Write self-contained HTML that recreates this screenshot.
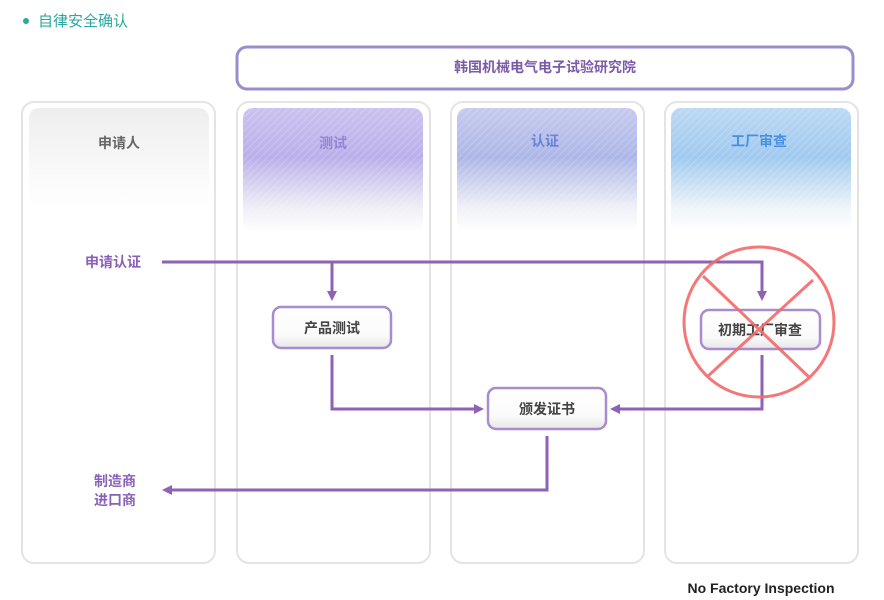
<!DOCTYPE html>
<html><head><meta charset="utf-8"><style>
html,body{margin:0;padding:0;background:#fff;width:884px;height:600px;overflow:hidden}
text{font-family:"Liberation Sans","Noto Sans CJK SC",sans-serif}
</style></head><body>
<svg width="884" height="600" viewBox="0 0 884 600" xmlns="http://www.w3.org/2000/svg">
<defs>
<pattern id="st" width="5" height="5" patternUnits="userSpaceOnUse" patternTransform="rotate(45)">
<rect width="5" height="5" fill="none"/><line x1="0" y1="0" x2="0" y2="5" stroke="#fff" stroke-width="1.5" opacity="0.25"/>
</pattern>
<linearGradient id="g1" x1="0" y1="0" x2="0" y2="1"><stop offset="0" stop-color="#eeeeee"/><stop offset="1" stop-color="#ffffff"/></linearGradient>
<linearGradient id="g2" x1="0" y1="0" x2="0" y2="1"><stop offset="0" stop-color="#cbc2f0"/><stop offset="0.4" stop-color="#bbb0ea"/><stop offset="0.8" stop-color="#efeef6"/><stop offset="1" stop-color="#ffffff"/></linearGradient>
<linearGradient id="g3" x1="0" y1="0" x2="0" y2="1"><stop offset="0" stop-color="#c6caee"/><stop offset="0.4" stop-color="#adb7e7"/><stop offset="0.8" stop-color="#eff0f7"/><stop offset="1" stop-color="#ffffff"/></linearGradient>
<linearGradient id="g4" x1="0" y1="0" x2="0" y2="1"><stop offset="0" stop-color="#bcd8f3"/><stop offset="0.4" stop-color="#a0caef"/><stop offset="0.8" stop-color="#eef4f9"/><stop offset="1" stop-color="#ffffff"/></linearGradient>
<linearGradient id="bx" x1="0" y1="0" x2="0" y2="1"><stop offset="0" stop-color="#ffffff"/><stop offset="0.7" stop-color="#fafafa"/><stop offset="1" stop-color="#e6e6e6"/></linearGradient>
<marker id="ar" markerWidth="10" markerHeight="10" refX="7" refY="5" orient="auto" markerUnits="userSpaceOnUse"><path d="M0,0 L10,5 L0,10 Z" fill="#8e62b4"/></marker>
</defs>
<circle cx="26" cy="21" r="3" fill="#2aa8a0"/>
<text x="38" y="26" font-size="15" fill="#2aa8a0">自律安全确认</text>

<rect x="237" y="47" width="616" height="42" rx="10" fill="#fff" stroke="#9b8dcc" stroke-width="3"/>
<text x="545" y="72" font-size="14" font-weight="bold" fill="#7b5aa8" text-anchor="middle">韩国机械电气电子试验研究院</text>

<g fill="#fff" stroke="#e4e4e4" stroke-width="2">
<rect x="22" y="102" width="193" height="461" rx="12"/>
<rect x="237" y="102" width="193" height="461" rx="12"/>
<rect x="451" y="102" width="193" height="461" rx="12"/>
<rect x="665" y="102" width="193" height="461" rx="12"/>
</g>
<rect x="29" y="108" width="180" height="100" rx="10" fill="url(#g1)"/>
<rect x="243" y="108" width="180" height="124" rx="10" fill="url(#g2)"/>
<rect x="243" y="108" width="180" height="124" rx="10" fill="url(#st)"/>
<rect x="457" y="108" width="180" height="124" rx="10" fill="url(#g3)"/>
<rect x="457" y="108" width="180" height="124" rx="10" fill="url(#st)"/>
<rect x="671" y="108" width="180" height="124" rx="10" fill="url(#g4)"/>
<rect x="671" y="108" width="180" height="124" rx="10" fill="url(#st)"/>

<text x="119" y="148" font-size="14" font-weight="bold" fill="#666" text-anchor="middle">申请人</text>
<text x="333" y="148" font-size="14" font-weight="bold" fill="#9583d6" text-anchor="middle">测试</text>
<text x="545" y="146" font-size="14" font-weight="bold" fill="#6a82d8" text-anchor="middle">认证</text>
<text x="759" y="146" font-size="14" font-weight="bold" fill="#4a90e0" text-anchor="middle">工厂审查</text>

<text x="113" y="267" font-size="14" font-weight="bold" fill="#8a60b8" text-anchor="middle">申请认证</text>
<text x="115" y="486" font-size="14" font-weight="bold" fill="#8a60b8" text-anchor="middle">制造商</text>
<text x="115" y="505" font-size="14" font-weight="bold" fill="#8a60b8" text-anchor="middle">进口商</text>

<g fill="none" stroke="#8e62b4" stroke-width="3">
<path d="M162,262 H762 V298" marker-end="url(#ar)"/>
<path d="M332,262 V298" marker-end="url(#ar)"/>
<path d="M332,355 V409 H481" marker-end="url(#ar)"/>
<path d="M762,355 V409 H613" marker-end="url(#ar)"/>
<path d="M547,436 V490 H165" marker-end="url(#ar)"/>
</g>

<g stroke="#a98bd0" stroke-width="2.5" fill="url(#bx)">
<rect x="273" y="307" width="118" height="41" rx="8"/>
<rect x="488" y="388" width="118" height="41" rx="8"/>
<rect x="701" y="310" width="119" height="39" rx="8"/>
</g>
<text x="332" y="333" font-size="14" font-weight="bold" fill="#444" text-anchor="middle">产品测试</text>
<text x="547" y="414" font-size="14" font-weight="bold" fill="#444" text-anchor="middle">颁发证书</text>
<text x="760" y="335" font-size="14" font-weight="bold" fill="#444" text-anchor="middle">初期工厂审查</text>

<g fill="none" stroke="#f26a6a" stroke-width="3" opacity="0.9">
<circle cx="759" cy="322" r="75"/>
<line x1="703" y1="276" x2="810" y2="378"/>
<line x1="813" y1="280" x2="708" y2="376"/>
</g>

<text x="761" y="593" font-size="14" font-weight="bold" fill="#222" text-anchor="middle">No Factory Inspection</text>
</svg>
</body></html>
